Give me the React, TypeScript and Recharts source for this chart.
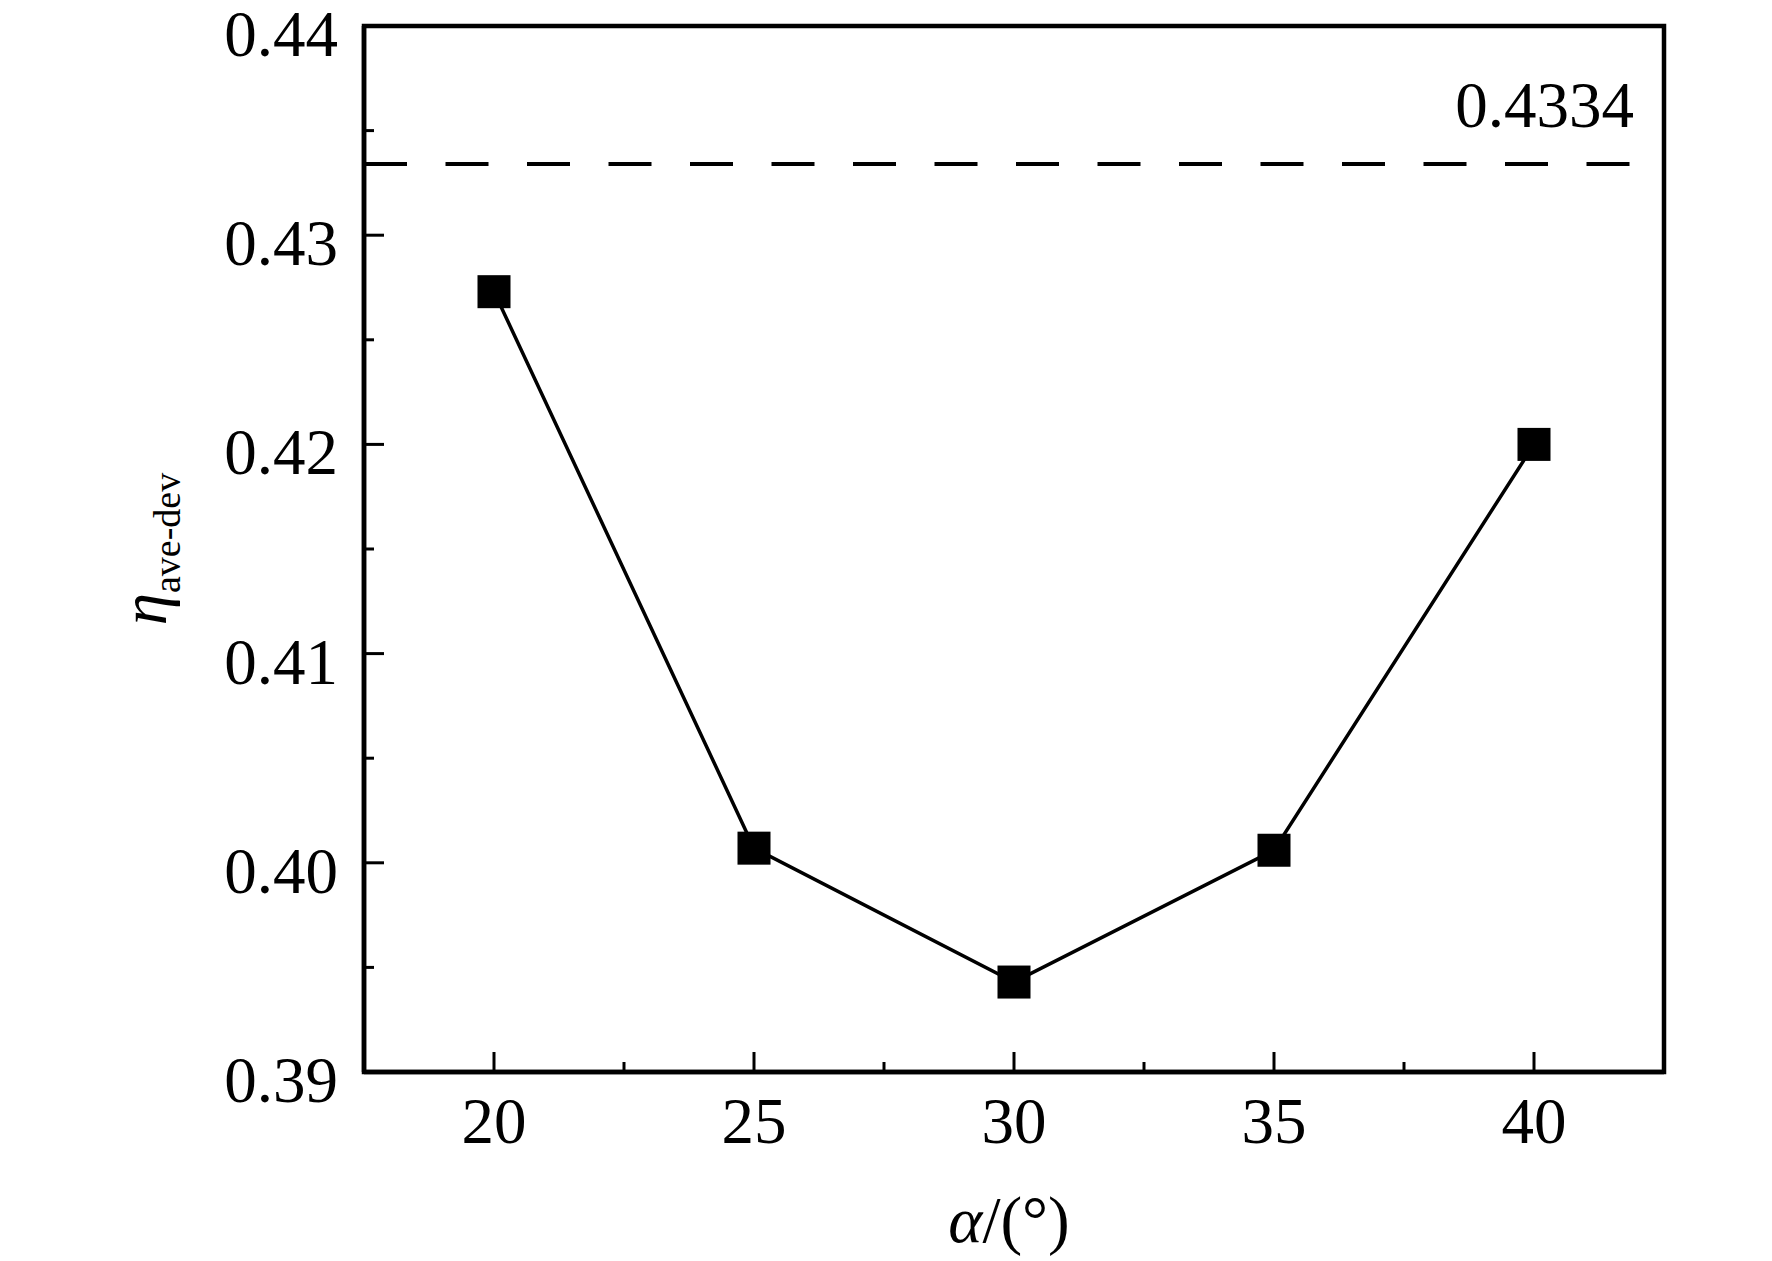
import React from 'react';
import { LineChart, Line, XAxis, YAxis, ReferenceLine, ReferenceArea } from 'recharts';

// α/(°) values and measured efficiency
const alphaDeg = [20, 25, 30, 35, 40];
const etaAveDev = [0.4273, 0.4007, 0.3943, 0.4006, 0.42];

const xDomain: [number, number] = [17.5, 42.5];
const yDomain: [number, number] = [0.39, 0.44];
const xTicks = [20, 22.5, 25, 27.5, 30, 32.5, 35, 37.5, 40];
const yTicks = [0.39, 0.395, 0.4, 0.405, 0.41, 0.415, 0.42, 0.425, 0.43, 0.435, 0.44];
const referenceValue = 0.4334;

const data = alphaDeg.map((a, i) => ({ alpha: a, eta: etaAveDev[i] }));

const FONT = '"Liberation Serif", "Times New Roman", serif';
const INK = '#000';

const isMajorX = (v: number) => Math.abs(v / 5 - Math.round(v / 5)) < 1e-6;
const isMajorY = (v: number) => Math.abs(v * 100 - Math.round(v * 100)) < 1e-6;

function XTick(props: any) {
  const { x, y, payload } = props;
  const major = isMajorX(payload.value);
  return (
    <g>
      <line x1={x} y1={y} x2={x} y2={y - (major ? 20 : 10)} stroke={INK} strokeWidth={3} />
      {major && (
        <text x={x} y={y + 71} textAnchor="middle" fontFamily={FONT} fontSize={65} fill={INK}>
          {payload.value}
        </text>
      )}
    </g>
  );
}

function YTick(props: any) {
  const { x, y, payload } = props;
  const major = isMajorY(payload.value);
  return (
    <g>
      <line x1={x} y1={y} x2={x + (major ? 20 : 10)} y2={y} stroke={INK} strokeWidth={3} />
      {major && (
        <text x={x - 26} y={y + 30} textAnchor="end" fontFamily={FONT} fontSize={65} fill={INK}>
          {payload.value.toFixed(2)}
        </text>
      )}
    </g>
  );
}

function SquareDot(props: any) {
  const { cx, cy, index } = props;
  return <rect key={`sq-${index}`} x={cx - 16.5} y={cy - 16.5} width={33} height={33} fill={INK} />;
}

export default function App() {
  return (
    <div style={{ position: 'absolute', left: 0, top: 0, background: '#fff' }}>
      <LineChart width={1772} height={1261} data={data} margin={{ top: 26, right: 108, bottom: 0, left: 0 }}>
        <XAxis
          dataKey="alpha"
          type="number"
          domain={xDomain}
          ticks={xTicks}
          interval={0}
          height={189}
          tickSize={0}
          tickMargin={0}
          tickLine={false}
          axisLine={{ stroke: INK, strokeWidth: 4.5 }}
          tick={<XTick />}
          label={{
            content: ({ viewBox }: any) => (
              <text
                x={viewBox.x + viewBox.width / 2 - 5}
                y={viewBox.y + 170}
                textAnchor="middle"
                fontFamily={FONT}
                fontSize={65}
                fill={INK}
              >
                <tspan fontStyle="italic">α</tspan>/(°)
              </text>
            ),
          }}
        />
        <YAxis
          type="number"
          domain={yDomain}
          ticks={yTicks}
          interval={0}
          width={364}
          tickSize={0}
          tickMargin={0}
          tickLine={false}
          axisLine={{ stroke: INK, strokeWidth: 4.5 }}
          tick={<YTick />}
          label={{
            content: ({ viewBox }: any) => {
              const cx = 166;
              const cy = viewBox.y + viewBox.height / 2;
              return (
                <text
                  x={cx}
                  y={cy}
                  transform={`rotate(-90 ${cx} ${cy})`}
                  textAnchor="middle"
                  fontFamily={FONT}
                  fontSize={65}
                  fill={INK}
                >
                  <tspan fontStyle="italic">η</tspan>
                  <tspan fontSize={38} dy={14}>ave-dev</tspan>
                </text>
              );
            },
          }}
        />
        {/* frame: top and right edges of the box */}
        <ReferenceArea
          x1={xDomain[0]}
          x2={xDomain[1]}
          y1={yDomain[0]}
          y2={yDomain[1]}
          fill="none"
          fillOpacity={0}
          stroke={INK}
          strokeWidth={4.5}
          ifOverflow="visible"
        />
        <ReferenceLine
          y={referenceValue}
          stroke={INK}
          strokeWidth={4}
          strokeDasharray="43 38.5"
          label={{
            content: ({ viewBox }: any) => (
              <text
                x={viewBox.x + viewBox.width - 30}
                y={viewBox.y - 37}
                textAnchor="end"
                fontFamily={FONT}
                fontSize={65}
                fill={INK}
              >
                {referenceValue}
              </text>
            ),
          }}
        />
        <Line
          type="linear"
          dataKey="eta"
          stroke={INK}
          strokeWidth={3.5}
          dot={SquareDot}
          activeDot={false}
          isAnimationActive={false}
        />
      </LineChart>
    </div>
  );
}
